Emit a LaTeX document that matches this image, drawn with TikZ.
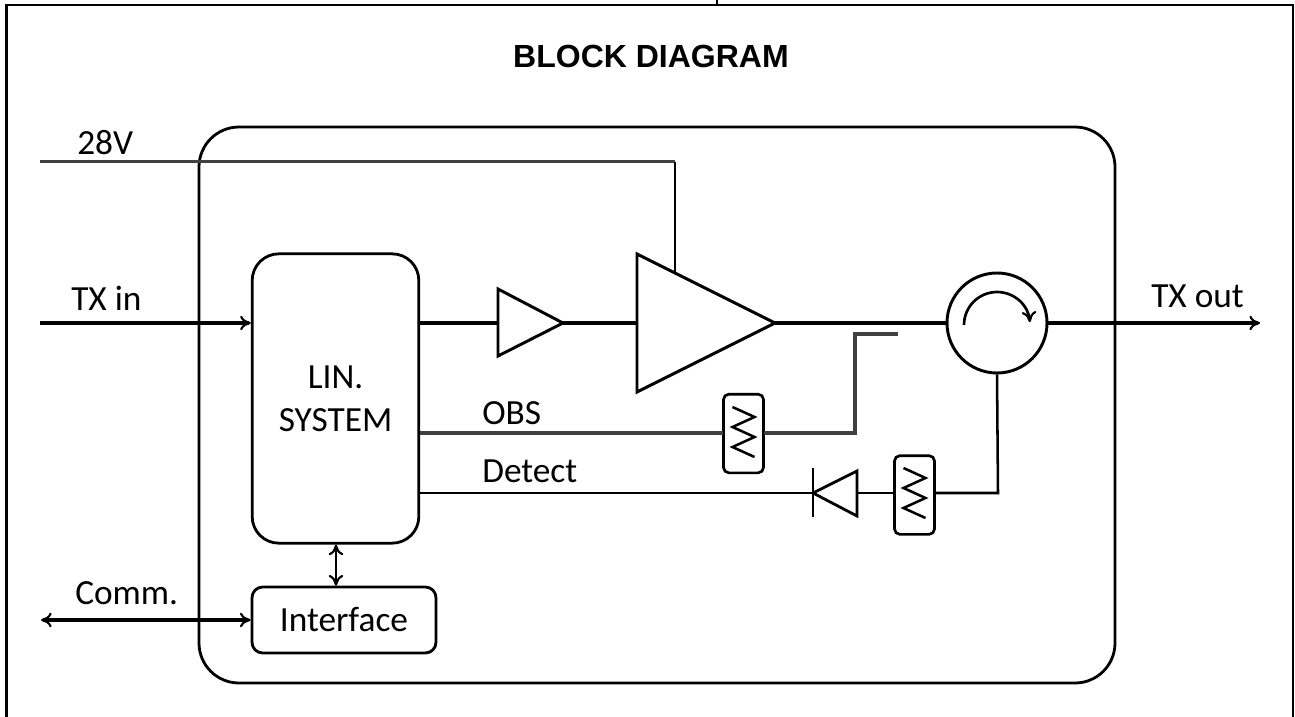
\documentclass[tikz,border=0pt]{standalone}
\usepackage{fontspec}
\setmainfont{Carlito}
\newfontfamily\titlefont{Liberation Sans}
\usetikzlibrary{arrows.meta}
\tikzset{
  frameline/.style={line width=1.9pt,black},
  thickwire/.style={line width=2.8pt,black},
  wire/.style={line width=2.5pt,black!75},
  thinwire/.style={line width=1.9pt,black},
  block/.style={draw,line width=2.1pt,rounded corners=#1,inner sep=0pt,fill=none},
  lab/.style={font=\fontsize{26.5}{32}\selectfont,inner sep=0pt},
  tip/.style={-{To[length=8pt,width=11pt,line width=1.6pt]}},
  dtip/.style={{To[length=8pt,width=11pt,line width=1.6pt]}-{To[length=8pt,width=11pt,line width=1.6pt]}},
  zz/.style={line width=1.9pt,line join=miter},
  res/.style={draw,line width=2pt,rounded corners=4pt,minimum width=30pt,minimum height=59pt,inner sep=0pt},
}
\begin{document}
\begin{tikzpicture}[x=0.75pt,y=-0.75pt]
\useasboundingbox (0,0) rectangle (1295,717);
% frame
\coordinate (fa) at (6.5,717);
\coordinate (fb) at (6.5,5);
\coordinate (fc) at (1293,5);
\coordinate (fd) at (1293,717);
\coordinate (ta) at (717,0);
\coordinate (tb) at (717,5);
\draw[frameline] (fa) -- (fb) -- (fc) -- (fd);
\draw[frameline] (ta) -- (tb);
\node[font=\titlefont\bfseries\fontsize{24}{26}\selectfont,inner sep=0pt] (title) at (651,56) {BLOCK DIAGRAM};
% container
\node[block=30pt,minimum width=687pt,minimum height=417pt] (box) at (657,405) {};
% lin system
\node[block=20pt,minimum width=125pt,minimum height=217pt,align=center,lab] (lin) at (335.5,398.5) {LIN.\\SYSTEM};
\node[block=8pt,minimum width=138pt,minimum height=49.5pt,lab] (iface) at (344,620) {Interface};
% amplifiers
\coordinate (s1) at (498,289); \coordinate (s2) at (498,356); \coordinate (sa) at (563,323);
\coordinate (b1) at (637,254); \coordinate (b2) at (637,392); \coordinate (ba) at (775,323);
\coordinate (sin) at (498,323); \coordinate (bin) at (637,323);
\draw[line width=2.2pt,line join=miter] (s1) -- (sa) -- (s2) -- cycle;
\draw[line width=2.2pt,line join=miter] (b1) -- (ba) -- (b2) -- cycle;
% circulator
\node[draw,circle,line width=2.2pt,minimum size=75pt,inner sep=0pt] (circ) at (997,323) {};
\coordinate (arcs) at (964,325);
\draw[line width=2pt,-{To[length=8pt,width=11pt,line width=1.6pt]}] (arcs) arc[start angle=180,end angle=5,radius=33*0.75pt];
% resistors
\node[res] (r1) at (743.5,433.5) {};
\node[res] (r2) at (914.5,495) {};
\foreach \c/\ymid in {743.5/432,914.5/493}{
  \draw[zz] (\c-11,\ymid-25) -- (\c+11,\ymid-15) -- (\c-11,\ymid-5) -- (\c+11,\ymid+5) -- (\c-11,\ymid+15) -- (\c+11,\ymid+25);
}
% diode
\coordinate (d1) at (813,493); \coordinate (d2) at (857,471); \coordinate (d3) at (857,516);
\coordinate (dt) at (813,468); \coordinate (db) at (813,517); \coordinate (dr) at (857,493);
\draw[line width=2.1pt] (d1) -- (d2) -- (d3) -- cycle;
\draw[line width=2.1pt] (dt) -- (db);
% connectors
\coordinate (v28) at (40,161.5);
\coordinate (v28c) at (675,161.5);
\coordinate (v28e) at (675,272);
\draw[wire] (v28) -- (v28c);
\draw[thinwire] (v28c) -- (v28e);
\coordinate (txin) at (40,323);
\draw[thickwire,tip] (txin) -- (lin.west |- txin);
\draw[thickwire] (lin.east |- sin) -- (sin);
\draw[thickwire] (sa) -- (bin);
\draw[thickwire] (ba) -- (circ.west);
\coordinate (txout) at (1260,323);
\draw[thickwire,tip] (circ.east) -- (txout);
\coordinate (ob) at (723,433);
\draw[wire] (lin.east |- ob) -- (ob);
\coordinate (st0) at (764,433); \coordinate (st1) at (855,433); \coordinate (st2) at (855,334); \coordinate (st3) at (898,334);
\draw[wire,line join=miter] (st0) -- (st1) -- (st2) -- (st3);
\draw[thinwire] (lin.east |- d1) -- (d1);
\draw[thinwire] (dr) -- (dr -| r2.west);
\coordinate (cc) at (998,493);
\draw[thinwire] (cc -| r2.east) -- (cc) -- (circ.south);
\draw[thinwire,dtip] (lin.south -| 336,0) -- (iface.north -| 336,0);
\coordinate (comm) at (41,620);
\draw[thickwire,dtip] (comm) -- (iface.west);
% labels
\node[lab,anchor=west] (l28) at (77,143) {28V};
\node[lab,anchor=west] (ltx) at (71,298) {TX in};
\node[lab,anchor=west] (lout) at (1151,296) {TX out};
\node[lab,anchor=west] (lobs) at (482,413) {OBS};
\node[lab,anchor=west] (ldet) at (482,471) {Detect};
\node[lab,anchor=west] (lcom) at (75,593) {Comm.};
\end{tikzpicture}
\end{document}
